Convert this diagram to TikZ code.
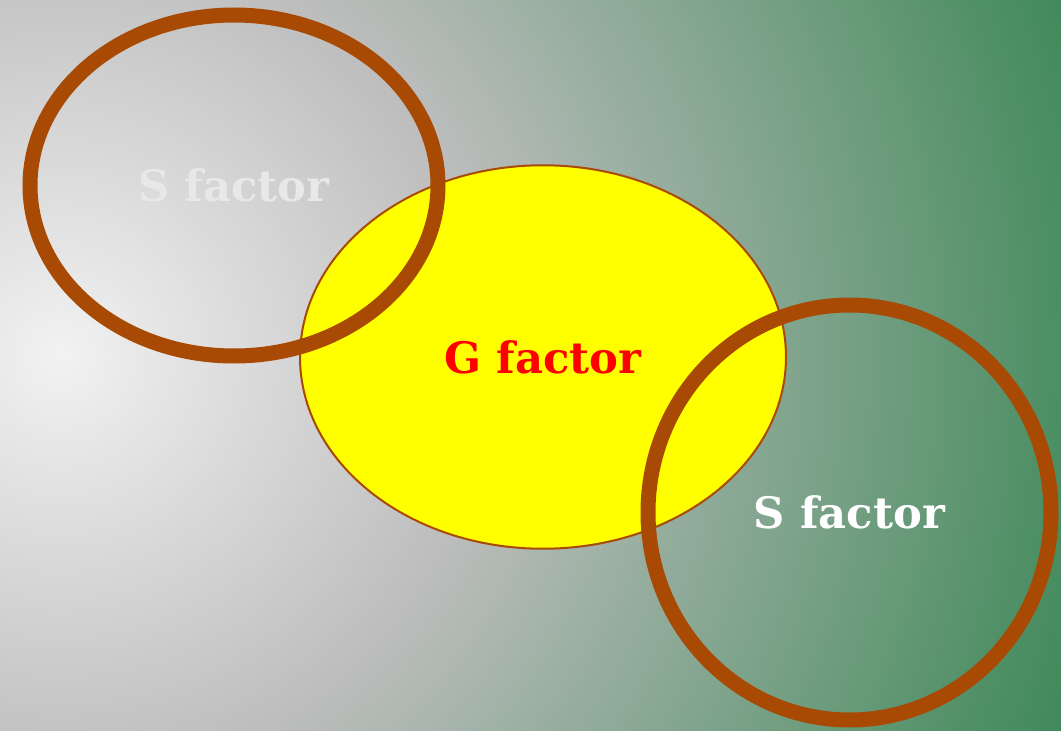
\documentclass[tikz,border=0pt]{standalone}
\usepackage{fontspec}
\setmainfont{DejaVu Serif}
\usetikzlibrary{shapes.geometric}

\definecolor{ringbrown}{HTML}{A84A04}
\definecolor{discyellow}{HTML}{FFFF00}
\definecolor{glowcentre}{HTML}{F2F2F2}
\definecolor{glowgrey}{HTML}{BEBEBE}
\definecolor{glowgreen}{HTML}{428A5B}
\definecolor{slabelgrey}{HTML}{E8E8E8}

\pgfdeclareradialshading{backglow}{\pgfpoint{0bp}{0bp}}{%
  color(0bp)=(glowcentre); color(9.5bp)=(glowgrey);
  color(24bp)=(glowgreen); color(50bp)=(glowgreen)}

\begin{document}
\begin{tikzpicture}[
	x=0.75pt, y=-0.75pt,
	factor/.style={ font=\fontsize{32.5}{38}\selectfont\bfseries, inner sep=0pt },
	sring/.style={ factor, ellipse, draw=ringbrown, line width=11.25pt },
	gdisc/.style={ factor, ellipse, draw=ringbrown, line width=1.5pt, fill=discyellow, text=red }
]

\useasboundingbox (0,0) rectangle (1061,731);
\begin{scope}
  \clip (0,0) rectangle (1061,731);
  \shade[shading=backglow] (60,355) circle [radius=1100];
\end{scope}

\node at (543,357) (gcore) [gdisc, minimum width=364.5pt, minimum height=287.6pt] {G factor};
\node at (234,185.5) (sleft) [sring, minimum width=306pt, minimum height=255.75pt, text=slabelgrey] {S factor};
\node at (849.5,512.5) (sright) [sring, minimum width=302.25pt, minimum height=311.25pt, text=white] {S factor};

\end{tikzpicture}
\end{document}
